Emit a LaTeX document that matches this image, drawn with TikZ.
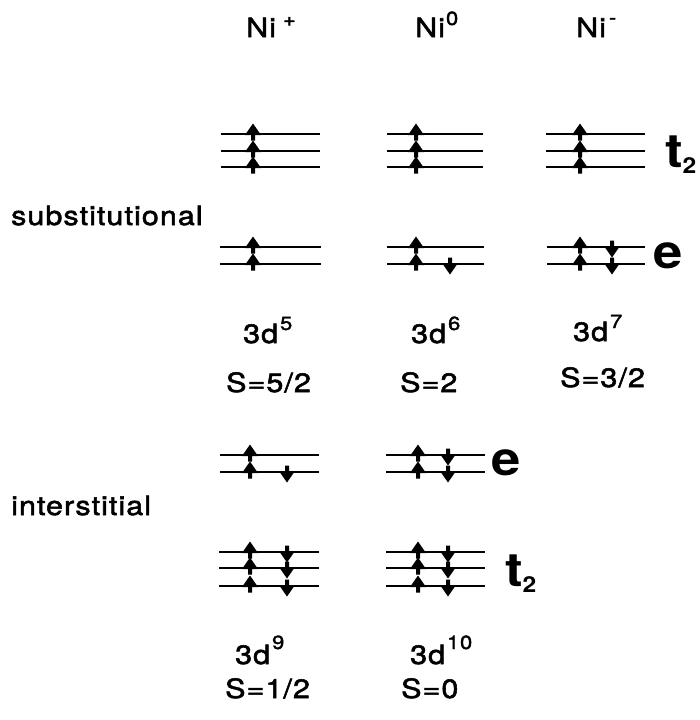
\documentclass[tikz,border=0pt]{standalone}
\usepackage{fontspec}
\setmainfont{TeX Gyre Heros}[FakeStretch=1.15,LetterSpace=4,FakeBold=2]
\newfontfamily\hbold{TeX Gyre Heros}[FakeStretch=1.12]
\newcommand\spinup[2]{\fill[shift={(#1,#2)}] (-2,6.5) rectangle (2,-2) (-8,1) -- (0,-10.5) -- (8,1) -- cycle;}
\newcommand\spindn[2]{\fill[shift={(#1,#2)}] (-2,-6.5) rectangle (2,2) (-8,-1) -- (0,10.5) -- (8,-1) -- cycle;}
\newcommand\lvline[3]{\draw[lvl] (#1,#3) -- (#2,#3);}
\newcommand\sps[2][13pt]{\raisebox{#1}{\fontsize{19}{22}\selectfont #2}}
\newcommand\tlab{t\raisebox{-6pt}{\fontsize{22}{24}\selectfont 2}}
\begin{document}
\begin{tikzpicture}[x=1pt,y=-1pt,
  lvl/.style={line width=2pt},
  txt/.style={font=\fontsize{26.5}{30}\selectfont, inner sep=0pt, anchor=base west},
  big/.style={font=\hbold\fontsize{47}{50}\selectfont\bfseries, inner sep=0pt, anchor=base west}]
\useasboundingbox (0,0) rectangle (700,720);
% headers
\node[txt] (hp) at (246,37) {Ni\hspace{7pt}\sps[11pt]{+}};
\node[txt] (h0) at (415,37) {Ni\hspace{1pt}\sps[12pt]{0}};
\node[txt] (hm) at (576,37) {Ni\hspace{3pt}\sps[13pt]{-}};
% substitutional t2
\foreach \y in {134,151,167} {
  \lvline{221}{320}{\y} \spinup{253}{\y}
  \lvline{387}{483}{\y} \spinup{416}{\y}
  \lvline{546}{645}{\y} \spinup{580}{\y}
}
\node[big] (st2) at (665,167) {\tlab};
% substitutional e
\foreach \y in {247,264} {
  \lvline{220}{321}{\y} \spinup{253}{\y}
  \lvline{387}{484}{\y} \spinup{416}{\y}
  \lvline{547}{645}{\y} \spinup{580}{\y} \spindn{612}{\y}
}
\spindn{450}{264}
\node[big] (se) at (653,268) {e};
\node[txt] (sub) at (11,225) {substitutional};
\node[txt] (c5) at (243,343) {3d\hspace{2pt}\sps{5}};
\node[txt] (c6) at (411,343) {3d\hspace{2pt}\sps{6}};
\node[txt] (c7) at (573,341) {3d\hspace{2pt}\sps{7}};
\node[txt] (s5) at (226,392) {S=5/2};
\node[txt] (s6) at (400,392) {S=2};
\node[txt] (s7) at (560,387) {S=3/2};
% interstitial e
\foreach \y in {455,472} {
  \lvline{220}{319}{\y} \spinup{250}{\y}
  \lvline{386}{485}{\y} \spinup{418}{\y} \spindn{448}{\y}
}
\spindn{287}{472}
\node[big] (ie) at (491,475) {e};
\node[txt] (int) at (11,515) {interstitial};
% interstitial t2
\foreach \y in {552,568,586} {
  \lvline{219}{319}{\y} \spinup{250}{\y} \spindn{287}{\y}
  \lvline{386}{485}{\y} \spinup{418}{\y} \spindn{448}{\y}
}
\node[big] (it2) at (505,586) {\tlab};
\node[txt] (c9) at (235,664) {3d\hspace{2pt}\sps[15pt]{9}};
\node[txt] (c10) at (410,664) {3d\hspace{2pt}\sps[15pt]{10}};
\node[txt] (s9) at (225,698) {S=1/2};
\node[txt] (s10) at (401,698) {S=0};
\end{tikzpicture}
\end{document}
